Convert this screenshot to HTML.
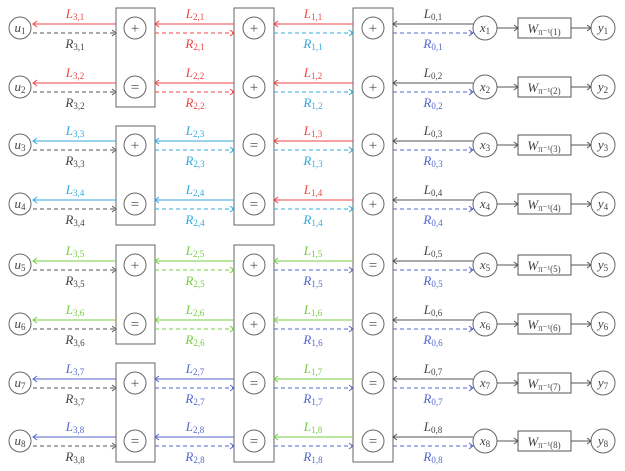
<!DOCTYPE html>
<html><head><meta charset="utf-8"><style>
html,body{margin:0;padding:0;background:#fff;}
svg{display:block;font-family:"Liberation Serif",serif;}
text{font-style:italic;font-size:13px;text-anchor:middle;}
.s{font-size:9px;font-style:normal;}
.n{font-style:normal;font-size:15px;fill:#555;}
.c{fill:none;stroke:#666;stroke-width:1;}
.d{stroke-dasharray:4 3;}
</style></head><body>
<svg width="625" height="471" viewBox="0 0 625 471" xmlns="http://www.w3.org/2000/svg">
<defs>
<g id="seg">
</g>
</defs>
<!-- boxes -->
<g class="c" stroke="#777">
<rect x="116" y="8" width="39" height="99"/>
<rect x="116" y="126" width="39" height="99"/>
<rect x="116" y="245" width="39" height="99"/>
<rect x="116" y="363" width="39" height="99"/>
<rect x="234" y="8" width="40" height="217"/>
<rect x="234" y="245" width="40" height="217"/>
<rect x="353" y="8" width="40" height="454"/>
</g>

<!-- Row template repeated -->
<!-- ROW 1 -->
<g transform="translate(0,28)">
<circle class="c" cx="20" cy="0" r="11"/><text x="20" y="4" fill="#444">u<tspan class="s" dy="2">1</tspan></text>
<g fill="none" stroke="#ee4444"><line x1="33" y1="-4" x2="116" y2="-4"/><path d="M37 -7L33 -4L37 -1"/></g>
<g fill="none" stroke="#555"><line class="d" x1="33" y1="5" x2="116" y2="5"/><path d="M112 2L116 5L112 8"/></g>
<text x="75" y="-10" fill="#ee4444">L<tspan class="s" dy="2">3,1</tspan></text><text x="75" y="20" fill="#444">R<tspan class="s" dy="2">3,1</tspan></text>
<circle class="c" cx="135" cy="0" r="11"/><text class="n" x="135" y="5">+</text>
<g fill="none" stroke="#ee4444"><line x1="155" y1="-4" x2="234" y2="-4"/><path d="M159 -7L155 -4L159 -1"/><line class="d" x1="155" y1="5" x2="234" y2="5"/><path d="M230 2L234 5L230 8"/></g>
<text x="195" y="-10" fill="#ee4444">L<tspan class="s" dy="2">2,1</tspan></text><text x="195" y="20" fill="#ee4444">R<tspan class="s" dy="2">2,1</tspan></text>
<circle class="c" cx="254" cy="0" r="11"/><text class="n" x="254" y="5">+</text>
<g fill="none" stroke="#ee4444"><line x1="274" y1="-4" x2="353" y2="-4"/><path d="M278 -7L274 -4L278 -1"/></g>
<g fill="none" stroke="#33aadd"><line class="d" x1="274" y1="5" x2="353" y2="5"/><path d="M349 2L353 5L349 8"/></g>
<text x="313" y="-10" fill="#ee4444">L<tspan class="s" dy="2">1,1</tspan></text><text x="313" y="20" fill="#33aadd">R<tspan class="s" dy="2">1,1</tspan></text>
<circle class="c" cx="373" cy="0" r="11"/><text class="n" x="373" y="5">+</text>
<g fill="none" stroke="#555"><line x1="393" y1="-4" x2="473" y2="-4"/><path d="M397 -7L393 -4L397 -1"/></g>
<g fill="none" stroke="#5566cc"><line class="d" x1="393" y1="5" x2="473" y2="5"/><path d="M469 2L473 5L469 8"/></g>
<text x="433" y="-10" fill="#444">L<tspan class="s" dy="2">0,1</tspan></text><text x="433" y="20" fill="#5566cc">R<tspan class="s" dy="2">0,1</tspan></text>
<circle class="c" cx="485" cy="0" r="12"/><text x="485" y="4" fill="#444">x<tspan class="s" dy="2">1</tspan></text>
<g fill="none" stroke="#555"><line x1="497" y1="0" x2="518" y2="0"/><path d="M514 -3L518 0L514 3"/><rect x="518" y="-10" width="53" height="20"/><line x1="571" y1="0" x2="591" y2="0"/><path d="M587 -3L591 0L587 3"/></g>
<text x="544" y="5" fill="#444">W<tspan class="s" dy="2">π⁻¹(1)</tspan></text>
<circle class="c" cx="603" cy="0" r="12"/><text x="603" y="4" fill="#444">y<tspan class="s" dy="2">1</tspan></text>
</g>

<!-- ROW 2 -->
<g transform="translate(0,87)">
<circle class="c" cx="20" cy="0" r="11"/><text x="20" y="4" fill="#444">u<tspan class="s" dy="2">2</tspan></text>
<g fill="none" stroke="#ee4444"><line x1="33" y1="-4" x2="116" y2="-4"/><path d="M37 -7L33 -4L37 -1"/></g>
<g fill="none" stroke="#555"><line class="d" x1="33" y1="5" x2="116" y2="5"/><path d="M112 2L116 5L112 8"/></g>
<text x="75" y="-10" fill="#ee4444">L<tspan class="s" dy="2">3,2</tspan></text><text x="75" y="20" fill="#444">R<tspan class="s" dy="2">3,2</tspan></text>
<circle class="c" cx="135" cy="0" r="11"/><text class="n" x="135" y="5">=</text>
<g fill="none" stroke="#ee4444"><line x1="155" y1="-4" x2="234" y2="-4"/><path d="M159 -7L155 -4L159 -1"/><line class="d" x1="155" y1="5" x2="234" y2="5"/><path d="M230 2L234 5L230 8"/></g>
<text x="195" y="-10" fill="#ee4444">L<tspan class="s" dy="2">2,2</tspan></text><text x="195" y="20" fill="#ee4444">R<tspan class="s" dy="2">2,2</tspan></text>
<circle class="c" cx="254" cy="0" r="11"/><text class="n" x="254" y="5">+</text>
<g fill="none" stroke="#ee4444"><line x1="274" y1="-4" x2="353" y2="-4"/><path d="M278 -7L274 -4L278 -1"/></g>
<g fill="none" stroke="#33aadd"><line class="d" x1="274" y1="5" x2="353" y2="5"/><path d="M349 2L353 5L349 8"/></g>
<text x="313" y="-10" fill="#ee4444">L<tspan class="s" dy="2">1,2</tspan></text><text x="313" y="20" fill="#33aadd">R<tspan class="s" dy="2">1,2</tspan></text>
<circle class="c" cx="373" cy="0" r="11"/><text class="n" x="373" y="5">+</text>
<g fill="none" stroke="#555"><line x1="393" y1="-4" x2="473" y2="-4"/><path d="M397 -7L393 -4L397 -1"/></g>
<g fill="none" stroke="#5566cc"><line class="d" x1="393" y1="5" x2="473" y2="5"/><path d="M469 2L473 5L469 8"/></g>
<text x="433" y="-10" fill="#444">L<tspan class="s" dy="2">0,2</tspan></text><text x="433" y="20" fill="#5566cc">R<tspan class="s" dy="2">0,2</tspan></text>
<circle class="c" cx="485" cy="0" r="12"/><text x="485" y="4" fill="#444">x<tspan class="s" dy="2">2</tspan></text>
<g fill="none" stroke="#555"><line x1="497" y1="0" x2="518" y2="0"/><path d="M514 -3L518 0L514 3"/><rect x="518" y="-10" width="53" height="20"/><line x1="571" y1="0" x2="591" y2="0"/><path d="M587 -3L591 0L587 3"/></g>
<text x="544" y="5" fill="#444">W<tspan class="s" dy="2">π⁻¹(2)</tspan></text>
<circle class="c" cx="603" cy="0" r="12"/><text x="603" y="4" fill="#444">y<tspan class="s" dy="2">2</tspan></text>
</g>

<!-- ROW 3 -->
<g transform="translate(0,145)">
<circle class="c" cx="20" cy="0" r="11"/><text x="20" y="4" fill="#444">u<tspan class="s" dy="2">3</tspan></text>
<g fill="none" stroke="#33aadd"><line x1="33" y1="-4" x2="116" y2="-4"/><path d="M37 -7L33 -4L37 -1"/></g>
<g fill="none" stroke="#555"><line class="d" x1="33" y1="5" x2="116" y2="5"/><path d="M112 2L116 5L112 8"/></g>
<text x="75" y="-10" fill="#33aadd">L<tspan class="s" dy="2">3,3</tspan></text><text x="75" y="20" fill="#444">R<tspan class="s" dy="2">3,3</tspan></text>
<circle class="c" cx="135" cy="0" r="11"/><text class="n" x="135" y="5">+</text>
<g fill="none" stroke="#33aadd"><line x1="155" y1="-4" x2="234" y2="-4"/><path d="M159 -7L155 -4L159 -1"/><line class="d" x1="155" y1="5" x2="234" y2="5"/><path d="M230 2L234 5L230 8"/></g>
<text x="195" y="-10" fill="#33aadd">L<tspan class="s" dy="2">2,3</tspan></text><text x="195" y="20" fill="#33aadd">R<tspan class="s" dy="2">2,3</tspan></text>
<circle class="c" cx="254" cy="0" r="11"/><text class="n" x="254" y="5">=</text>
<g fill="none" stroke="#ee4444"><line x1="274" y1="-4" x2="353" y2="-4"/><path d="M278 -7L274 -4L278 -1"/></g>
<g fill="none" stroke="#33aadd"><line class="d" x1="274" y1="5" x2="353" y2="5"/><path d="M349 2L353 5L349 8"/></g>
<text x="313" y="-10" fill="#ee4444">L<tspan class="s" dy="2">1,3</tspan></text><text x="313" y="20" fill="#33aadd">R<tspan class="s" dy="2">1,3</tspan></text>
<circle class="c" cx="373" cy="0" r="11"/><text class="n" x="373" y="5">+</text>
<g fill="none" stroke="#555"><line x1="393" y1="-4" x2="473" y2="-4"/><path d="M397 -7L393 -4L397 -1"/></g>
<g fill="none" stroke="#5566cc"><line class="d" x1="393" y1="5" x2="473" y2="5"/><path d="M469 2L473 5L469 8"/></g>
<text x="433" y="-10" fill="#444">L<tspan class="s" dy="2">0,3</tspan></text><text x="433" y="20" fill="#5566cc">R<tspan class="s" dy="2">0,3</tspan></text>
<circle class="c" cx="485" cy="0" r="12"/><text x="485" y="4" fill="#444">x<tspan class="s" dy="2">3</tspan></text>
<g fill="none" stroke="#555"><line x1="497" y1="0" x2="518" y2="0"/><path d="M514 -3L518 0L514 3"/><rect x="518" y="-10" width="53" height="20"/><line x1="571" y1="0" x2="591" y2="0"/><path d="M587 -3L591 0L587 3"/></g>
<text x="544" y="5" fill="#444">W<tspan class="s" dy="2">π⁻¹(3)</tspan></text>
<circle class="c" cx="603" cy="0" r="12"/><text x="603" y="4" fill="#444">y<tspan class="s" dy="2">3</tspan></text>
</g>

<!-- ROW 4 -->
<g transform="translate(0,204)">
<circle class="c" cx="20" cy="0" r="11"/><text x="20" y="4" fill="#444">u<tspan class="s" dy="2">4</tspan></text>
<g fill="none" stroke="#33aadd"><line x1="33" y1="-4" x2="116" y2="-4"/><path d="M37 -7L33 -4L37 -1"/></g>
<g fill="none" stroke="#555"><line class="d" x1="33" y1="5" x2="116" y2="5"/><path d="M112 2L116 5L112 8"/></g>
<text x="75" y="-10" fill="#33aadd">L<tspan class="s" dy="2">3,4</tspan></text><text x="75" y="20" fill="#444">R<tspan class="s" dy="2">3,4</tspan></text>
<circle class="c" cx="135" cy="0" r="11"/><text class="n" x="135" y="5">=</text>
<g fill="none" stroke="#33aadd"><line x1="155" y1="-4" x2="234" y2="-4"/><path d="M159 -7L155 -4L159 -1"/><line class="d" x1="155" y1="5" x2="234" y2="5"/><path d="M230 2L234 5L230 8"/></g>
<text x="195" y="-10" fill="#33aadd">L<tspan class="s" dy="2">2,4</tspan></text><text x="195" y="20" fill="#33aadd">R<tspan class="s" dy="2">2,4</tspan></text>
<circle class="c" cx="254" cy="0" r="11"/><text class="n" x="254" y="5">=</text>
<g fill="none" stroke="#ee4444"><line x1="274" y1="-4" x2="353" y2="-4"/><path d="M278 -7L274 -4L278 -1"/></g>
<g fill="none" stroke="#33aadd"><line class="d" x1="274" y1="5" x2="353" y2="5"/><path d="M349 2L353 5L349 8"/></g>
<text x="313" y="-10" fill="#ee4444">L<tspan class="s" dy="2">1,4</tspan></text><text x="313" y="20" fill="#33aadd">R<tspan class="s" dy="2">1,4</tspan></text>
<circle class="c" cx="373" cy="0" r="11"/><text class="n" x="373" y="5">+</text>
<g fill="none" stroke="#555"><line x1="393" y1="-4" x2="473" y2="-4"/><path d="M397 -7L393 -4L397 -1"/></g>
<g fill="none" stroke="#5566cc"><line class="d" x1="393" y1="5" x2="473" y2="5"/><path d="M469 2L473 5L469 8"/></g>
<text x="433" y="-10" fill="#444">L<tspan class="s" dy="2">0,4</tspan></text><text x="433" y="20" fill="#5566cc">R<tspan class="s" dy="2">0,4</tspan></text>
<circle class="c" cx="485" cy="0" r="12"/><text x="485" y="4" fill="#444">x<tspan class="s" dy="2">4</tspan></text>
<g fill="none" stroke="#555"><line x1="497" y1="0" x2="518" y2="0"/><path d="M514 -3L518 0L514 3"/><rect x="518" y="-10" width="53" height="20"/><line x1="571" y1="0" x2="591" y2="0"/><path d="M587 -3L591 0L587 3"/></g>
<text x="544" y="5" fill="#444">W<tspan class="s" dy="2">π⁻¹(4)</tspan></text>
<circle class="c" cx="603" cy="0" r="12"/><text x="603" y="4" fill="#444">y<tspan class="s" dy="2">4</tspan></text>
</g>

<!-- ROW 5 -->
<g transform="translate(0,265)">
<circle class="c" cx="20" cy="0" r="11"/><text x="20" y="4" fill="#444">u<tspan class="s" dy="2">5</tspan></text>
<g fill="none" stroke="#77cc44"><line x1="33" y1="-4" x2="116" y2="-4"/><path d="M37 -7L33 -4L37 -1"/></g>
<g fill="none" stroke="#555"><line class="d" x1="33" y1="5" x2="116" y2="5"/><path d="M112 2L116 5L112 8"/></g>
<text x="75" y="-10" fill="#77cc44">L<tspan class="s" dy="2">3,5</tspan></text><text x="75" y="20" fill="#444">R<tspan class="s" dy="2">3,5</tspan></text>
<circle class="c" cx="135" cy="0" r="11"/><text class="n" x="135" y="5">+</text>
<g fill="none" stroke="#77cc44"><line x1="155" y1="-4" x2="234" y2="-4"/><path d="M159 -7L155 -4L159 -1"/><line class="d" x1="155" y1="5" x2="234" y2="5"/><path d="M230 2L234 5L230 8"/></g>
<text x="195" y="-10" fill="#77cc44">L<tspan class="s" dy="2">2,5</tspan></text><text x="195" y="20" fill="#77cc44">R<tspan class="s" dy="2">2,5</tspan></text>
<circle class="c" cx="254" cy="0" r="11"/><text class="n" x="254" y="5">+</text>
<g fill="none" stroke="#77cc44"><line x1="274" y1="-4" x2="353" y2="-4"/><path d="M278 -7L274 -4L278 -1"/></g>
<g fill="none" stroke="#5566cc"><line class="d" x1="274" y1="5" x2="353" y2="5"/><path d="M349 2L353 5L349 8"/></g>
<text x="313" y="-10" fill="#77cc44">L<tspan class="s" dy="2">1,5</tspan></text><text x="313" y="20" fill="#5566cc">R<tspan class="s" dy="2">1,5</tspan></text>
<circle class="c" cx="373" cy="0" r="11"/><text class="n" x="373" y="5">=</text>
<g fill="none" stroke="#555"><line x1="393" y1="-4" x2="473" y2="-4"/><path d="M397 -7L393 -4L397 -1"/></g>
<g fill="none" stroke="#5566cc"><line class="d" x1="393" y1="5" x2="473" y2="5"/><path d="M469 2L473 5L469 8"/></g>
<text x="433" y="-10" fill="#444">L<tspan class="s" dy="2">0,5</tspan></text><text x="433" y="20" fill="#5566cc">R<tspan class="s" dy="2">0,5</tspan></text>
<circle class="c" cx="485" cy="0" r="12"/><text x="485" y="4" fill="#444">x<tspan class="s" dy="2">5</tspan></text>
<g fill="none" stroke="#555"><line x1="497" y1="0" x2="518" y2="0"/><path d="M514 -3L518 0L514 3"/><rect x="518" y="-10" width="53" height="20"/><line x1="571" y1="0" x2="591" y2="0"/><path d="M587 -3L591 0L587 3"/></g>
<text x="544" y="5" fill="#444">W<tspan class="s" dy="2">π⁻¹(5)</tspan></text>
<circle class="c" cx="603" cy="0" r="12"/><text x="603" y="4" fill="#444">y<tspan class="s" dy="2">5</tspan></text>
</g>

<!-- ROW 6 -->
<g transform="translate(0,324)">
<circle class="c" cx="20" cy="0" r="11"/><text x="20" y="4" fill="#444">u<tspan class="s" dy="2">6</tspan></text>
<g fill="none" stroke="#77cc44"><line x1="33" y1="-4" x2="116" y2="-4"/><path d="M37 -7L33 -4L37 -1"/></g>
<g fill="none" stroke="#555"><line class="d" x1="33" y1="5" x2="116" y2="5"/><path d="M112 2L116 5L112 8"/></g>
<text x="75" y="-10" fill="#77cc44">L<tspan class="s" dy="2">3,6</tspan></text><text x="75" y="20" fill="#444">R<tspan class="s" dy="2">3,6</tspan></text>
<circle class="c" cx="135" cy="0" r="11"/><text class="n" x="135" y="5">=</text>
<g fill="none" stroke="#77cc44"><line x1="155" y1="-4" x2="234" y2="-4"/><path d="M159 -7L155 -4L159 -1"/><line class="d" x1="155" y1="5" x2="234" y2="5"/><path d="M230 2L234 5L230 8"/></g>
<text x="195" y="-10" fill="#77cc44">L<tspan class="s" dy="2">2,6</tspan></text><text x="195" y="20" fill="#77cc44">R<tspan class="s" dy="2">2,6</tspan></text>
<circle class="c" cx="254" cy="0" r="11"/><text class="n" x="254" y="5">+</text>
<g fill="none" stroke="#77cc44"><line x1="274" y1="-4" x2="353" y2="-4"/><path d="M278 -7L274 -4L278 -1"/></g>
<g fill="none" stroke="#5566cc"><line class="d" x1="274" y1="5" x2="353" y2="5"/><path d="M349 2L353 5L349 8"/></g>
<text x="313" y="-10" fill="#77cc44">L<tspan class="s" dy="2">1,6</tspan></text><text x="313" y="20" fill="#5566cc">R<tspan class="s" dy="2">1,6</tspan></text>
<circle class="c" cx="373" cy="0" r="11"/><text class="n" x="373" y="5">=</text>
<g fill="none" stroke="#555"><line x1="393" y1="-4" x2="473" y2="-4"/><path d="M397 -7L393 -4L397 -1"/></g>
<g fill="none" stroke="#5566cc"><line class="d" x1="393" y1="5" x2="473" y2="5"/><path d="M469 2L473 5L469 8"/></g>
<text x="433" y="-10" fill="#444">L<tspan class="s" dy="2">0,6</tspan></text><text x="433" y="20" fill="#5566cc">R<tspan class="s" dy="2">0,6</tspan></text>
<circle class="c" cx="485" cy="0" r="12"/><text x="485" y="4" fill="#444">x<tspan class="s" dy="2">6</tspan></text>
<g fill="none" stroke="#555"><line x1="497" y1="0" x2="518" y2="0"/><path d="M514 -3L518 0L514 3"/><rect x="518" y="-10" width="53" height="20"/><line x1="571" y1="0" x2="591" y2="0"/><path d="M587 -3L591 0L587 3"/></g>
<text x="544" y="5" fill="#444">W<tspan class="s" dy="2">π⁻¹(6)</tspan></text>
<circle class="c" cx="603" cy="0" r="12"/><text x="603" y="4" fill="#444">y<tspan class="s" dy="2">6</tspan></text>
</g>

<!-- ROW 7 -->
<g transform="translate(0,383)">
<circle class="c" cx="20" cy="0" r="11"/><text x="20" y="4" fill="#444">u<tspan class="s" dy="2">7</tspan></text>
<g fill="none" stroke="#5566cc"><line x1="33" y1="-4" x2="116" y2="-4"/><path d="M37 -7L33 -4L37 -1"/></g>
<g fill="none" stroke="#555"><line class="d" x1="33" y1="5" x2="116" y2="5"/><path d="M112 2L116 5L112 8"/></g>
<text x="75" y="-10" fill="#5566cc">L<tspan class="s" dy="2">3,7</tspan></text><text x="75" y="20" fill="#444">R<tspan class="s" dy="2">3,7</tspan></text>
<circle class="c" cx="135" cy="0" r="11"/><text class="n" x="135" y="5">+</text>
<g fill="none" stroke="#5566cc"><line x1="155" y1="-4" x2="234" y2="-4"/><path d="M159 -7L155 -4L159 -1"/><line class="d" x1="155" y1="5" x2="234" y2="5"/><path d="M230 2L234 5L230 8"/></g>
<text x="195" y="-10" fill="#5566cc">L<tspan class="s" dy="2">2,7</tspan></text><text x="195" y="20" fill="#5566cc">R<tspan class="s" dy="2">2,7</tspan></text>
<circle class="c" cx="254" cy="0" r="11"/><text class="n" x="254" y="5">=</text>
<g fill="none" stroke="#77cc44"><line x1="274" y1="-4" x2="353" y2="-4"/><path d="M278 -7L274 -4L278 -1"/></g>
<g fill="none" stroke="#5566cc"><line class="d" x1="274" y1="5" x2="353" y2="5"/><path d="M349 2L353 5L349 8"/></g>
<text x="313" y="-10" fill="#77cc44">L<tspan class="s" dy="2">1,7</tspan></text><text x="313" y="20" fill="#5566cc">R<tspan class="s" dy="2">1,7</tspan></text>
<circle class="c" cx="373" cy="0" r="11"/><text class="n" x="373" y="5">=</text>
<g fill="none" stroke="#555"><line x1="393" y1="-4" x2="473" y2="-4"/><path d="M397 -7L393 -4L397 -1"/></g>
<g fill="none" stroke="#5566cc"><line class="d" x1="393" y1="5" x2="473" y2="5"/><path d="M469 2L473 5L469 8"/></g>
<text x="433" y="-10" fill="#444">L<tspan class="s" dy="2">0,7</tspan></text><text x="433" y="20" fill="#5566cc">R<tspan class="s" dy="2">0,7</tspan></text>
<circle class="c" cx="485" cy="0" r="12"/><text x="485" y="4" fill="#444">x<tspan class="s" dy="2">7</tspan></text>
<g fill="none" stroke="#555"><line x1="497" y1="0" x2="518" y2="0"/><path d="M514 -3L518 0L514 3"/><rect x="518" y="-10" width="53" height="20"/><line x1="571" y1="0" x2="591" y2="0"/><path d="M587 -3L591 0L587 3"/></g>
<text x="544" y="5" fill="#444">W<tspan class="s" dy="2">π⁻¹(7)</tspan></text>
<circle class="c" cx="603" cy="0" r="12"/><text x="603" y="4" fill="#444">y<tspan class="s" dy="2">7</tspan></text>
</g>

<!-- ROW 8 -->
<g transform="translate(0,441)">
<circle class="c" cx="20" cy="0" r="11"/><text x="20" y="4" fill="#444">u<tspan class="s" dy="2">8</tspan></text>
<g fill="none" stroke="#5566cc"><line x1="33" y1="-4" x2="116" y2="-4"/><path d="M37 -7L33 -4L37 -1"/></g>
<g fill="none" stroke="#555"><line class="d" x1="33" y1="5" x2="116" y2="5"/><path d="M112 2L116 5L112 8"/></g>
<text x="75" y="-10" fill="#5566cc">L<tspan class="s" dy="2">3,8</tspan></text><text x="75" y="20" fill="#444">R<tspan class="s" dy="2">3,8</tspan></text>
<circle class="c" cx="135" cy="0" r="11"/><text class="n" x="135" y="5">=</text>
<g fill="none" stroke="#5566cc"><line x1="155" y1="-4" x2="234" y2="-4"/><path d="M159 -7L155 -4L159 -1"/><line class="d" x1="155" y1="5" x2="234" y2="5"/><path d="M230 2L234 5L230 8"/></g>
<text x="195" y="-10" fill="#5566cc">L<tspan class="s" dy="2">2,8</tspan></text><text x="195" y="20" fill="#5566cc">R<tspan class="s" dy="2">2,8</tspan></text>
<circle class="c" cx="254" cy="0" r="11"/><text class="n" x="254" y="5">=</text>
<g fill="none" stroke="#77cc44"><line x1="274" y1="-4" x2="353" y2="-4"/><path d="M278 -7L274 -4L278 -1"/></g>
<g fill="none" stroke="#5566cc"><line class="d" x1="274" y1="5" x2="353" y2="5"/><path d="M349 2L353 5L349 8"/></g>
<text x="313" y="-10" fill="#77cc44">L<tspan class="s" dy="2">1,8</tspan></text><text x="313" y="20" fill="#5566cc">R<tspan class="s" dy="2">1,8</tspan></text>
<circle class="c" cx="373" cy="0" r="11"/><text class="n" x="373" y="5">=</text>
<g fill="none" stroke="#555"><line x1="393" y1="-4" x2="473" y2="-4"/><path d="M397 -7L393 -4L397 -1"/></g>
<g fill="none" stroke="#5566cc"><line class="d" x1="393" y1="5" x2="473" y2="5"/><path d="M469 2L473 5L469 8"/></g>
<text x="433" y="-10" fill="#444">L<tspan class="s" dy="2">0,8</tspan></text><text x="433" y="20" fill="#5566cc">R<tspan class="s" dy="2">0,8</tspan></text>
<circle class="c" cx="485" cy="0" r="12"/><text x="485" y="4" fill="#444">x<tspan class="s" dy="2">8</tspan></text>
<g fill="none" stroke="#555"><line x1="497" y1="0" x2="518" y2="0"/><path d="M514 -3L518 0L514 3"/><rect x="518" y="-10" width="53" height="20"/><line x1="571" y1="0" x2="591" y2="0"/><path d="M587 -3L591 0L587 3"/></g>
<text x="544" y="5" fill="#444">W<tspan class="s" dy="2">π⁻¹(8)</tspan></text>
<circle class="c" cx="603" cy="0" r="12"/><text x="603" y="4" fill="#444">y<tspan class="s" dy="2">8</tspan></text>
</g>
</svg>
</body></html>
